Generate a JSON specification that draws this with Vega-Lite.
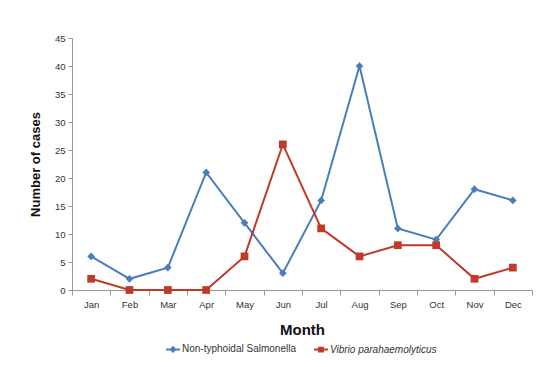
{
  "$schema": "https://vega.github.io/schema/vega-lite/v6.json",
  "width": 460,
  "height": 252,
  "autosize": "none",
  "padding": {"left": 72, "top": 38, "right": 23, "bottom": 77},
  "background": "white",
  "config": {
    "font": "Liberation Sans",
    "view": {"stroke": null},
    "axis": {"labelFont": "Liberation Sans", "titleFont": "Liberation Sans", "labelColor": "#333", "titleColor": "#111", "domainColor": "#999", "tickColor": "#999", "grid": false},
    "legend": {"layout": {"bottom": {"anchor": "middle"}}}
  },
  "data": {"values": [
    {"month": "Jan", "series": "Non-typhoidal Salmonella", "cases": 6},
    {"month": "Feb", "series": "Non-typhoidal Salmonella", "cases": 2},
    {"month": "Mar", "series": "Non-typhoidal Salmonella", "cases": 4},
    {"month": "Apr", "series": "Non-typhoidal Salmonella", "cases": 21},
    {"month": "May", "series": "Non-typhoidal Salmonella", "cases": 12},
    {"month": "Jun", "series": "Non-typhoidal Salmonella", "cases": 3},
    {"month": "Jul", "series": "Non-typhoidal Salmonella", "cases": 16},
    {"month": "Aug", "series": "Non-typhoidal Salmonella", "cases": 40},
    {"month": "Sep", "series": "Non-typhoidal Salmonella", "cases": 11},
    {"month": "Oct", "series": "Non-typhoidal Salmonella", "cases": 9},
    {"month": "Nov", "series": "Non-typhoidal Salmonella", "cases": 18},
    {"month": "Dec", "series": "Non-typhoidal Salmonella", "cases": 16},
    {"month": "Jan", "series": "Vibrio parahaemolyticus", "cases": 2},
    {"month": "Feb", "series": "Vibrio parahaemolyticus", "cases": 0},
    {"month": "Mar", "series": "Vibrio parahaemolyticus", "cases": 0},
    {"month": "Apr", "series": "Vibrio parahaemolyticus", "cases": 0},
    {"month": "May", "series": "Vibrio parahaemolyticus", "cases": 6},
    {"month": "Jun", "series": "Vibrio parahaemolyticus", "cases": 26},
    {"month": "Jul", "series": "Vibrio parahaemolyticus", "cases": 11},
    {"month": "Aug", "series": "Vibrio parahaemolyticus", "cases": 6},
    {"month": "Sep", "series": "Vibrio parahaemolyticus", "cases": 8},
    {"month": "Oct", "series": "Vibrio parahaemolyticus", "cases": 8},
    {"month": "Nov", "series": "Vibrio parahaemolyticus", "cases": 2},
    {"month": "Dec", "series": "Vibrio parahaemolyticus", "cases": 4}
  ]},
  "encoding": {
    "x": {"field": "month", "type": "nominal", "sort": null,
      "scale": {"type": "band", "paddingInner": 0, "paddingOuter": 0},
      "axis": {"title": "Month", "labelAngle": 0, "labelFontSize": 9.5, "tickBand": "extent", "tickSize": 5, "labelPadding": 4, "titleFontSize": 15, "titleFontWeight": "bold", "titlePadding": 14}},
    "y": {"field": "cases", "type": "quantitative",
      "scale": {"domain": [0, 45]},
      "axis": {"title": "Number of cases", "values": [0,5,10,15,20,25,30,35,40,45], "labelFontSize": 9.5, "tickSize": 4, "labelPadding": 3, "titleFontSize": 13, "titleFontWeight": "bold", "titlePadding": 12}},
    "color": {"field": "series", "type": "nominal",
      "scale": {"domain": ["Non-typhoidal Salmonella", "Vibrio parahaemolyticus"], "range": ["#4a7ebb", "#c0392b"]},
      "legend": {"title": null, "orient": "bottom", "direction": "horizontal", "labelFontSize": 10, "labelColor": "#333", "symbolSize": 40, "columnPadding": 14, "offset": 6,
        "symbolStrokeWidth": 2, "symbolOpacity": 1,
        "encode": {
          "labels": {"update": {"fontStyle": {"signal": "datum.label === 'Vibrio parahaemolyticus' ? 'italic' : 'normal'"}}},
          "symbols": {"update": {
            "shape": {"signal": "datum.label === 'Vibrio parahaemolyticus' ? 'M-2.2,0L2.2,0M-0.6,-0.6L0.6,-0.6L0.6,0.6L-0.6,0.6Z' : 'M-2.2,0L2.2,0M0,-0.7L0.7,0L0,0.7L-0.7,0Z'"},
            "stroke": {"signal": "datum.label === 'Vibrio parahaemolyticus' ? '#c0392b' : '#4a7ebb'"},
            "fill": {"signal": "datum.label === 'Vibrio parahaemolyticus' ? '#c0392b' : '#4a7ebb'"},
            "strokeWidth": {"value": 2}
          }}
        }}}
  },
  "layer": [
    {"mark": {"type": "line", "strokeWidth": 2}, "encoding": {}},
    {"mark": {"type": "point", "filled": true, "opacity": 1, "size": 60},
      "encoding": {
        "shape": {"condition": {"test": "datum.series === 'Vibrio parahaemolyticus'", "value": "square"}, "value": "diamond"}
      }}
  ]
}
